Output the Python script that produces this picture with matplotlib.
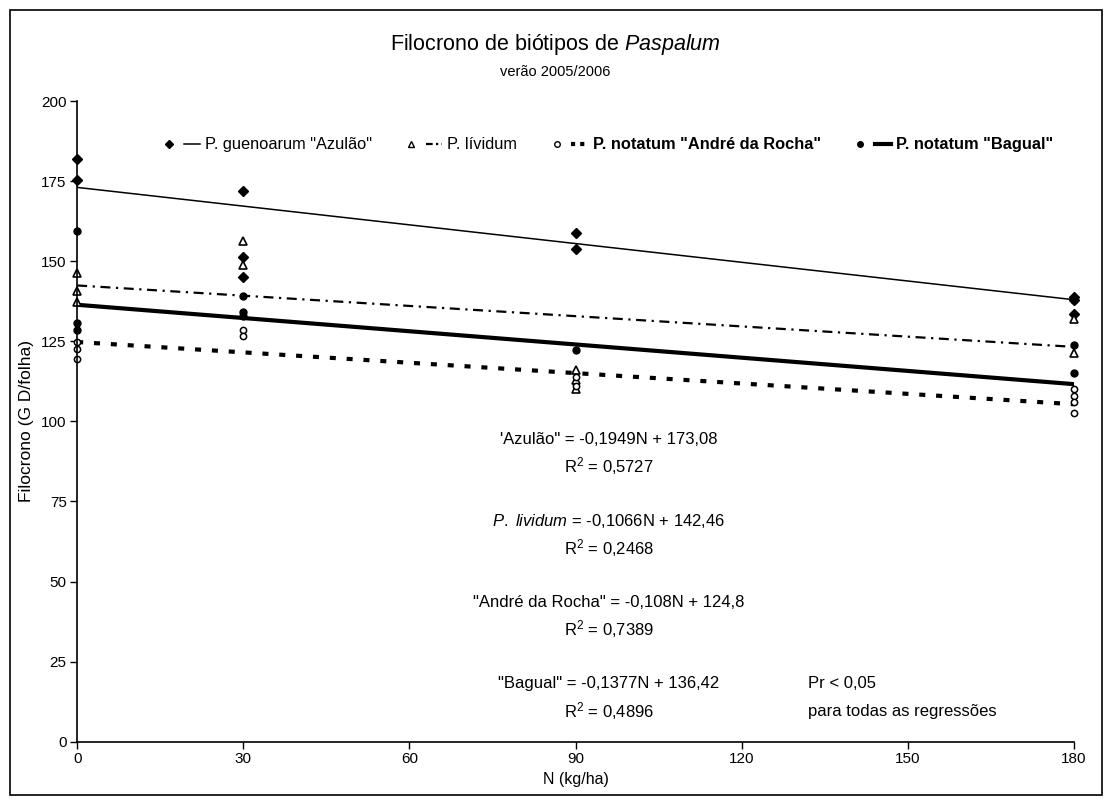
import matplotlib
matplotlib.use("Agg")
import matplotlib.pyplot as plt
from matplotlib.lines import Line2D
from matplotlib.legend_handler import HandlerTuple
from matplotlib.patches import Rectangle

plt.rcParams["font.family"] = ["Liberation Sans", "DejaVu Sans"]
plt.rcParams["mathtext.fontset"] = "custom"
plt.rcParams["mathtext.rm"] = "Liberation Sans"
plt.rcParams["mathtext.it"] = "Liberation Sans:italic"

# Filocrono (GD/folha) observado por dose de N
n_azulao = [0, 0, 30, 30, 30, 90, 90, 180, 180, 180]
f_azulao = [181.8, 175.5, 171.9, 151.4, 145.1, 158.9, 153.7, 139.0, 138.0, 133.5]

n_lividum = [0, 0, 0, 30, 30, 90, 90, 90, 180, 180]
f_lividum = [146.4, 140.6, 137.2, 156.3, 149.0, 116.0, 113.0, 110.0, 132.0, 121.5]

n_andre = [0, 0, 0, 30, 30, 90, 90, 180, 180, 180, 180]
f_andre = [124.7, 122.6, 119.5, 128.7, 126.6, 114.0, 111.0, 110.0, 108.0, 106.0, 102.5]

n_bagual = [0, 0, 0, 30, 30, 30, 90, 180, 180, 180]
f_bagual = [159.4, 130.7, 128.7, 139.1, 134.1, 132.8, 122.4, 138.0, 123.8, 115.0]

# coeficientes das regressões lineares (inclinação, intercepto)
reg_azulao = (-0.1949, 173.08)
reg_lividum = (-0.1066, 142.46)
reg_andre = (-0.108, 124.8)
reg_bagual = (-0.1377, 136.42)

x_ticks = [0, 30, 60, 90, 120, 150, 180]
y_ticks = [0, 25, 50, 75, 100, 125, 150, 175, 200]

fig = plt.figure(figsize=(11.1, 8), dpi=100)
ax = fig.add_axes([0.0695, 0.073, 0.898, 0.8005])

x_line = [0, 180]

def reta(reg):
    a, b = reg
    return [a * x + b for x in x_line]

ax.plot(x_line, reta(reg_azulao), color="black", lw=1.1)
ax.plot(x_line, reta(reg_lividum), color="black", lw=1.6, dashes=(4.5, 2.5, 1, 2.5))
ax.plot(x_line, reta(reg_andre), color="black", lw=3, dashes=(1.45, 2.6))
ax.plot(x_line, reta(reg_bagual), color="black", lw=3)

ax.plot(n_azulao, f_azulao, "D", color="black", ms=5, clip_on=False)
ax.plot(n_lividum, f_lividum, "^", mfc="white", mec="black", mew=1.2, ms=6, clip_on=False)
ax.plot(n_andre, f_andre, "o", mfc="white", mec="black", mew=1.1, ms=4.5, clip_on=False)
ax.plot(n_bagual, f_bagual, "o", color="black", ms=5, clip_on=False)

ax.set_xlim(0, 180)
ax.set_ylim(0, 200)
ax.set_xticks(x_ticks)
ax.set_yticks(y_ticks)
ax.tick_params(labelsize=11, direction="out", length=5, width=1, pad=2.5)
for s in ["top", "right"]:
    ax.spines[s].set_visible(False)
for s in ["left", "bottom"]:
    ax.spines[s].set_linewidth(1.2)

ax.set_xlabel("N (kg/ha)", fontsize=11.5, labelpad=4)
ax.set_ylabel("Filocrono (G D/folha)", fontsize=12.5)
ax.yaxis.set_label_coords(-0.043, 0.5)

fig.text(0.5, 0.944, "Filocrono de biótipos de $\\it{Paspalum}$", ha="center", va="center", fontsize=15.5)
fig.text(0.5, 0.91, "verão 2005/2006", ha="center", va="center", fontsize=10.5)

# equações das retas
eq_x = 96
ax.text(eq_x, 94.5, "'Azulão\" = -0,1949N + 173,08", ha="center", va="center", fontsize=12)
ax.text(eq_x, 86, "R$^2$ = 0,5727", ha="center", va="center", fontsize=12)
ax.text(eq_x, 69, "$\\it{P.}$ $\\it{lividum}$ = -0,1066N + 142,46", ha="center", va="center", fontsize=12)
ax.text(eq_x, 60.5, "R$^2$ = 0,2468", ha="center", va="center", fontsize=12)
ax.text(eq_x, 43.5, "\"André da Rocha\" = -0,108N + 124,8", ha="center", va="center", fontsize=12)
ax.text(eq_x, 35, "R$^2$ = 0,7389", ha="center", va="center", fontsize=12)
ax.text(eq_x, 18, "\"Bagual\" = -0,1377N + 136,42", ha="center", va="center", fontsize=12)
ax.text(eq_x, 9.5, "R$^2$ = 0,4896", ha="center", va="center", fontsize=12)
ax.text(132, 18, "Pr < 0,05", ha="left", va="center", fontsize=12)
ax.text(132, 9.5, "para todas as regressões", ha="left", va="center", fontsize=12)

# legenda: marcador + linha de tendência
handles = [
    (Line2D([], [], ls="none", marker="D", color="black", ms=4),
     Line2D([], [], color="black", lw=1.1)),
    (Line2D([], [], ls="none", marker="^", mfc="white", mec="black", ms=5),
     Line2D([], [], color="black", lw=1.6, dashes=(3, 1.5, 1, 1.5))),
    (Line2D([], [], ls="none", marker="o", mfc="white", mec="black", ms=4),
     Line2D([], [], color="black", lw=3, dashes=(1, 1.2))),
    (Line2D([], [], ls="none", marker="o", color="black", ms=4),
     Line2D([], [], color="black", lw=3)),
]
labels = ["P. guenoarum \"Azulão\"", "P. lívidum",
          "P. notatum \"André da Rocha\"", "P. notatum \"Bagual\""]
leg = fig.legend(handles, labels, ncol=4, loc="center", bbox_to_anchor=(0.547, 0.819),
                 frameon=False, fontsize=11.8, handlelength=2.4, handletextpad=0.3,
                 columnspacing=1.9, handler_map={tuple: HandlerTuple(ndivide=None, pad=0.4)})
for t in leg.get_texts()[2:]:
    t.set_fontweight("bold")

fig.add_artist(Rectangle((0.009, 0.006), 0.984, 0.981, transform=fig.transFigure,
                         fill=False, lw=1.2, edgecolor="black"))

fig.savefig("out.png", dpi=100)
